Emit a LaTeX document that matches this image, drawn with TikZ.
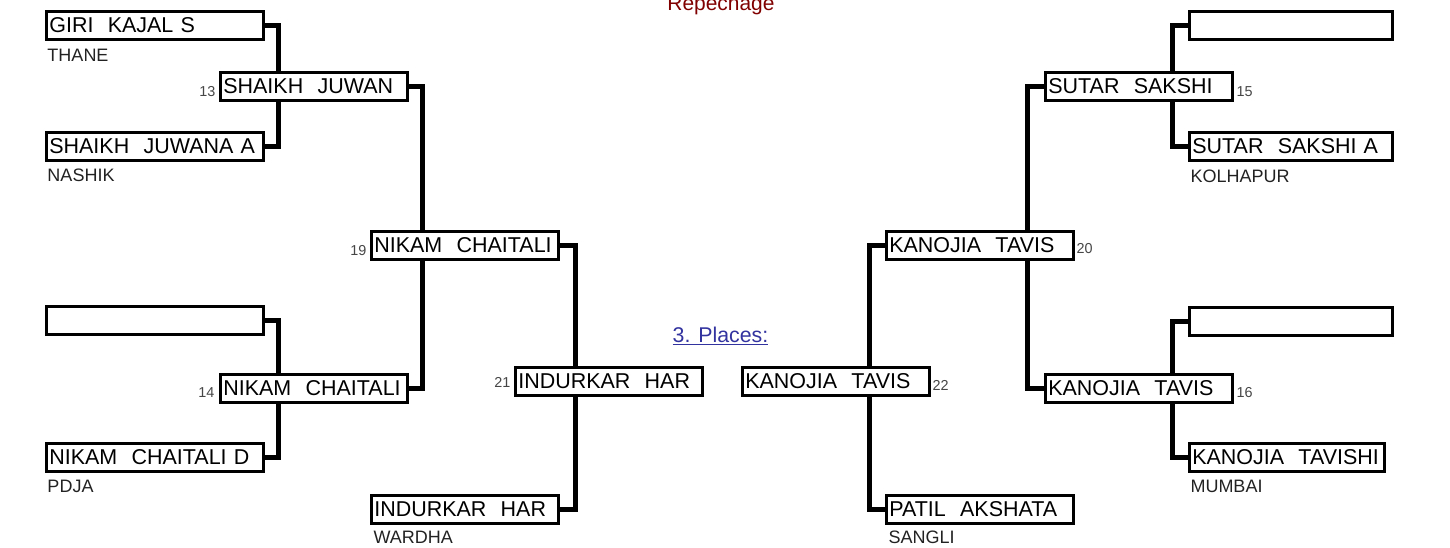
\documentclass[tikz,border=0pt]{standalone}
\usepackage{fontspec}
\setmainfont{Liberation Sans}
\usetikzlibrary{backgrounds}

\definecolor{clubgray}{RGB}{34,34,34}
\definecolor{boutgray}{RGB}{70,70,70}
\definecolor{repred}{RGB}{128,0,0}
\definecolor{placeblue}{RGB}{51,51,160}

\tikzset{every picture/.style={line width=0.75pt}}
\tikzset{
	entry/.style={draw, rectangle, line width=2.25pt, fill=white, anchor=west, minimum height=21pt, inner xsep=2.5pt, inner ysep=0pt, text width=#1, align=left, font=\fontsize{16.1}{18}\selectfont},
	entry/.default=135.25pt,
	club/.style={anchor=base west, inner sep=0pt, text=clubgray, font=\fontsize{13.5}{15}\selectfont},
	bout/.style={inner sep=0pt, text=boutgray, font=\fontsize{10.8}{12}\selectfont},
	link/.style={line width=3.75pt, line join=miter},
}

\begin{document}
\begin{tikzpicture}[x=0.75pt,y=0.75pt,yscale=-1,xscale=1]
	\useasboundingbox (0,0) rectangle (1450,547);

	%Shape: Rectangle (left, first round)
	\node[entry=157.75pt] (giri) at (44.5,25) {GIRI\ \ KAJAL S};
	\node[entry=157.75pt] (juwana) at (44.5,146.5) {SHAIKH\ \ JUWANA A};
	\node[entry=157.75pt] (blankl) at (44.5,320.5) {};
	\node[entry=157.75pt] (nikamd) at (44.5,457) {NIKAM\ \ CHAITALI D};
	%Shape: Rectangle (left, second round)
	\node[entry] (juwan) at (218.5,86.5) {SHAIKH\ \ JUWAN};
	\node[entry] (nikama) at (218.5,388) {NIKAM\ \ CHAITALI};
	%Shape: Rectangle (left, third round)
	\node[entry] (nikamb) at (369.5,245) {NIKAM\ \ CHAITALI};
	\node[entry] (indurkar) at (369.5,509.5) {INDURKAR\ \ HAR};
	%Shape: Rectangle (places)
	\node[entry] (indurkarw) at (513.5,381) {INDURKAR\ \ HAR};
	\node[entry] (kanojiaw) at (740.5,381) {KANOJIA\ \ TAVIS};
	%Shape: Rectangle (right, third round)
	\node[entry] (kanojiac) at (884.5,245) {KANOJIA\ \ TAVIS};
	\node[entry] (patil) at (884.5,509.5) {PATIL\ \ AKSHATA};
	%Shape: Rectangle (right, second round)
	\node[entry] (sutar) at (1043.5,86.5) {SUTAR\ \ SAKSHI};
	\node[entry] (kanojiab) at (1043.5,388) {KANOJIA\ \ TAVIS};
	%Shape: Rectangle (right, first round)
	\node[entry=147.25pt] (blankra) at (1187.5,25) {};
	\node[entry=147.25pt] (sutara) at (1187.5,146.5) {SUTAR\ \ SAKSHI A};
	\node[entry=147.25pt] (blankrb) at (1187.5,321) {};
	\node[entry=141.25pt] (tavishi) at (1187.5,457.5) {KANOJIA\ \ TAVISHI};

	%Straight Lines (bracket points)
	\coordinate (j13) at (278,86.5);
	\coordinate (j14) at (278,388);
	\coordinate (j19) at (422,245);
	\coordinate (j21) at (575,381);
	\coordinate (j15) at (1172,86.5);
	\coordinate (j16) at (1172,388);
	\coordinate (j20) at (1027,245);
	\coordinate (j22) at (869,381);

	\begin{scope}[on background layer]
		%Straight Lines
		\draw[link] (giri.east) -| (j13) |- (juwana.east);
		\draw[link] (blankl.east) -| (j14) |- (nikamd.east);
		\draw[link] (juwan.east) -| (j19) |- (nikama.east);
		\draw[link] (nikamb.east) -| (j21) |- (indurkar.east);
		%Straight Lines
		\draw[link] (blankra.west) -| (j15) |- (sutara.west);
		\draw[link] (blankrb.west) -| (j16) |- (tavishi.west);
		\draw[link] (sutar.west) -| (j20) |- (kanojiab.west);
		\draw[link] (kanojiac.west) -| (j22) |- (patil.west);
	\end{scope}

	% Text Node
	\node[club] (thane) at (47,61) {THANE};
	% Text Node
	\node[club] (nashik) at (47,181) {NASHIK};
	% Text Node
	\node[club] (pdja) at (47,492) {PDJA};
	% Text Node
	\node[club] (wardha) at (373,543) {WARDHA};
	% Text Node
	\node[club] (sangli) at (888,543) {SANGLI};
	% Text Node
	\node[club] (kolhapur) at (1190,182) {KOLHAPUR};
	% Text Node
	\node[club] (mumbai) at (1190,492) {MUMBAI};

	% Text Node
	\node[bout, anchor=base east] (b13) at (216,96) {13};
	% Text Node
	\node[bout, anchor=base east] (b14) at (215,397) {14};
	% Text Node
	\node[bout, anchor=base east] (b19) at (367,255) {19};
	% Text Node
	\node[bout, anchor=base east] (b21) at (511,387) {21};
	% Text Node
	\node[bout, anchor=base west] (b15) at (1236,96) {15};
	% Text Node
	\node[bout, anchor=base west] (b16) at (1236,397) {16};
	% Text Node
	\node[bout, anchor=base west] (b20) at (1076,253) {20};
	% Text Node
	\node[bout, anchor=base west] (b22) at (932,390) {22};

	% Text Node
	\node[anchor=base, inner sep=0pt, text=repred, font=\fontsize{15.7}{18}\selectfont] (repechage) at (721,10) {Repechage};
	% Text Node
	\node[anchor=base, inner sep=0pt, text=placeblue, font=\fontsize{16}{18}\selectfont] (places) at (720.5,342) {\underline{3. Places:}};

\end{tikzpicture}
\end{document}
